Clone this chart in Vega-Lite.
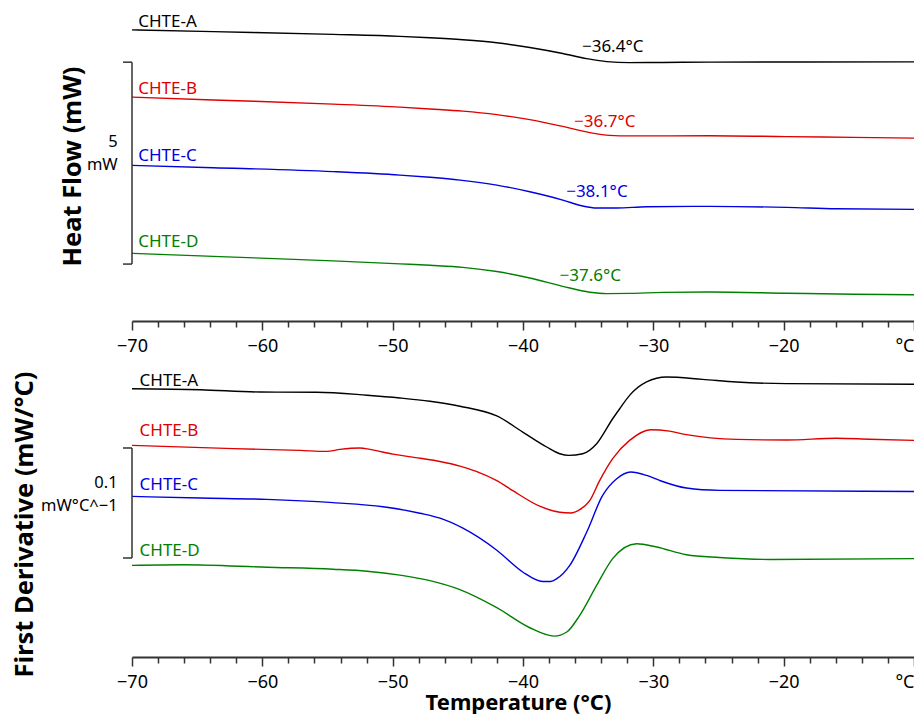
{
  "$schema": "https://vega.github.io/schema/vega-lite/v6.json",
  "padding": {"left": 12, "top": 0, "right": 0, "bottom": 0},
  "spacing": 4,
  "config": {
    "font": "Noto Sans",
    "view": {"stroke": null},
    "axis": {"labelFont": "Noto Sans", "titleFont": "Noto Sans"}
  },
  "datasets": {
    "heat": [
      {"sample": "CHTE-A", "temp": -70, "value": 7.21},
      {"sample": "CHTE-A", "temp": -63.77, "value": 7.166},
      {"sample": "CHTE-A", "temp": -54.57, "value": 7.099},
      {"sample": "CHTE-A", "temp": -49.44, "value": 7.05},
      {"sample": "CHTE-A", "temp": -47.14, "value": 7.015},
      {"sample": "CHTE-A", "temp": -44.61, "value": 6.965},
      {"sample": "CHTE-A", "temp": -42.01, "value": 6.891},
      {"sample": "CHTE-A", "temp": -39.48, "value": 6.775},
      {"sample": "CHTE-A", "temp": -36.95, "value": 6.626},
      {"sample": "CHTE-A", "temp": -35.11, "value": 6.498},
      {"sample": "CHTE-A", "temp": -33.58, "value": 6.423},
      {"sample": "CHTE-A", "temp": -31.82, "value": 6.399},
      {"sample": "CHTE-A", "temp": -29.29, "value": 6.403},
      {"sample": "CHTE-A", "temp": -25.69, "value": 6.411},
      {"sample": "CHTE-A", "temp": -10, "value": 6.418},
      {"sample": "CHTE-B", "temp": -70, "value": 5.545},
      {"sample": "CHTE-B", "temp": -63.77, "value": 5.475},
      {"sample": "CHTE-B", "temp": -54.57, "value": 5.371},
      {"sample": "CHTE-B", "temp": -49.44, "value": 5.297},
      {"sample": "CHTE-B", "temp": -47.14, "value": 5.252},
      {"sample": "CHTE-B", "temp": -44.61, "value": 5.198},
      {"sample": "CHTE-B", "temp": -42.01, "value": 5.111},
      {"sample": "CHTE-B", "temp": -39.48, "value": 4.988},
      {"sample": "CHTE-B", "temp": -36.95, "value": 4.819},
      {"sample": "CHTE-B", "temp": -34.88, "value": 4.666},
      {"sample": "CHTE-B", "temp": -33.35, "value": 4.597},
      {"sample": "CHTE-B", "temp": -31.82, "value": 4.584},
      {"sample": "CHTE-B", "temp": -25.69, "value": 4.587},
      {"sample": "CHTE-B", "temp": -19.79, "value": 4.567},
      {"sample": "CHTE-B", "temp": -14.66, "value": 4.547},
      {"sample": "CHTE-B", "temp": -10, "value": 4.53},
      {"sample": "CHTE-C", "temp": -70, "value": 3.854},
      {"sample": "CHTE-C", "temp": -63.77, "value": 3.797},
      {"sample": "CHTE-C", "temp": -54.57, "value": 3.7},
      {"sample": "CHTE-C", "temp": -49.44, "value": 3.614},
      {"sample": "CHTE-C", "temp": -47.14, "value": 3.559},
      {"sample": "CHTE-C", "temp": -44.84, "value": 3.49},
      {"sample": "CHTE-C", "temp": -42.01, "value": 3.366},
      {"sample": "CHTE-C", "temp": -39.48, "value": 3.2},
      {"sample": "CHTE-C", "temp": -36.95, "value": 2.995},
      {"sample": "CHTE-C", "temp": -35.42, "value": 2.847},
      {"sample": "CHTE-C", "temp": -34.35, "value": 2.797},
      {"sample": "CHTE-C", "temp": -32.81, "value": 2.797},
      {"sample": "CHTE-C", "temp": -30.52, "value": 2.829},
      {"sample": "CHTE-C", "temp": -25.69, "value": 2.839},
      {"sample": "CHTE-C", "temp": -19.79, "value": 2.814},
      {"sample": "CHTE-C", "temp": -15.96, "value": 2.78},
      {"sample": "CHTE-C", "temp": -10, "value": 2.765},
      {"sample": "CHTE-D", "temp": -70, "value": 1.676},
      {"sample": "CHTE-D", "temp": -63.77, "value": 1.601},
      {"sample": "CHTE-D", "temp": -54.57, "value": 1.49},
      {"sample": "CHTE-D", "temp": -49.44, "value": 1.416},
      {"sample": "CHTE-D", "temp": -47.14, "value": 1.379},
      {"sample": "CHTE-D", "temp": -44.61, "value": 1.329},
      {"sample": "CHTE-D", "temp": -42.01, "value": 1.225},
      {"sample": "CHTE-D", "temp": -39.48, "value": 1.064},
      {"sample": "CHTE-D", "temp": -36.95, "value": 0.859},
      {"sample": "CHTE-D", "temp": -34.88, "value": 0.713},
      {"sample": "CHTE-D", "temp": -33.58, "value": 0.678},
      {"sample": "CHTE-D", "temp": -31.82, "value": 0.683},
      {"sample": "CHTE-D", "temp": -29.29, "value": 0.708},
      {"sample": "CHTE-D", "temp": -25.69, "value": 0.718},
      {"sample": "CHTE-D", "temp": -19.79, "value": 0.688},
      {"sample": "CHTE-D", "temp": -14.66, "value": 0.663},
      {"sample": "CHTE-D", "temp": -10, "value": 0.651}
    ],
    "deriv": [
      {"sample": "CHTE-A", "temp": -70, "value": 0.2439},
      {"sample": "CHTE-A", "temp": -64.77, "value": 0.243},
      {"sample": "CHTE-A", "temp": -60.17, "value": 0.2409},
      {"sample": "CHTE-A", "temp": -55.82, "value": 0.2407},
      {"sample": "CHTE-A", "temp": -51.97, "value": 0.238},
      {"sample": "CHTE-A", "temp": -49.44, "value": 0.2355},
      {"sample": "CHTE-A", "temp": -47.14, "value": 0.2325},
      {"sample": "CHTE-A", "temp": -44.84, "value": 0.228},
      {"sample": "CHTE-A", "temp": -42.01, "value": 0.2191},
      {"sample": "CHTE-A", "temp": -40.02, "value": 0.2045},
      {"sample": "CHTE-A", "temp": -38.18, "value": 0.1909},
      {"sample": "CHTE-A", "temp": -37.18, "value": 0.1848},
      {"sample": "CHTE-A", "temp": -36.49, "value": 0.1833},
      {"sample": "CHTE-A", "temp": -35.42, "value": 0.1848},
      {"sample": "CHTE-A", "temp": -34.35, "value": 0.1939},
      {"sample": "CHTE-A", "temp": -33.12, "value": 0.2166},
      {"sample": "CHTE-A", "temp": -32.58, "value": 0.2257},
      {"sample": "CHTE-A", "temp": -31.82, "value": 0.2378},
      {"sample": "CHTE-A", "temp": -30.52, "value": 0.25},
      {"sample": "CHTE-A", "temp": -28.99, "value": 0.2545},
      {"sample": "CHTE-A", "temp": -26.23, "value": 0.2524},
      {"sample": "CHTE-A", "temp": -23.62, "value": 0.25},
      {"sample": "CHTE-A", "temp": -19.79, "value": 0.2485},
      {"sample": "CHTE-A", "temp": -10, "value": 0.248},
      {"sample": "CHTE-B", "temp": -70, "value": 0.1924},
      {"sample": "CHTE-B", "temp": -62.2, "value": 0.1894},
      {"sample": "CHTE-B", "temp": -57.1, "value": 0.1878},
      {"sample": "CHTE-B", "temp": -55.06, "value": 0.1869},
      {"sample": "CHTE-B", "temp": -54.04, "value": 0.1887},
      {"sample": "CHTE-B", "temp": -52.51, "value": 0.19},
      {"sample": "CHTE-B", "temp": -51.74, "value": 0.1887},
      {"sample": "CHTE-B", "temp": -49.98, "value": 0.1844},
      {"sample": "CHTE-B", "temp": -47.91, "value": 0.1807},
      {"sample": "CHTE-B", "temp": -46.37, "value": 0.1777},
      {"sample": "CHTE-B", "temp": -44.84, "value": 0.1735},
      {"sample": "CHTE-B", "temp": -43.54, "value": 0.1685},
      {"sample": "CHTE-B", "temp": -42.01, "value": 0.1603},
      {"sample": "CHTE-B", "temp": -40.78, "value": 0.1512},
      {"sample": "CHTE-B", "temp": -38.72, "value": 0.1371},
      {"sample": "CHTE-B", "temp": -37.18, "value": 0.1316},
      {"sample": "CHTE-B", "temp": -36.34, "value": 0.1309},
      {"sample": "CHTE-B", "temp": -35.65, "value": 0.1339},
      {"sample": "CHTE-B", "temp": -34.88, "value": 0.1421},
      {"sample": "CHTE-B", "temp": -34.12, "value": 0.1603},
      {"sample": "CHTE-B", "temp": -33.12, "value": 0.1803},
      {"sample": "CHTE-B", "temp": -31.82, "value": 0.1969},
      {"sample": "CHTE-B", "temp": -30.21, "value": 0.2066},
      {"sample": "CHTE-B", "temp": -28.76, "value": 0.2053},
      {"sample": "CHTE-B", "temp": -27.46, "value": 0.2021},
      {"sample": "CHTE-B", "temp": -23.62, "value": 0.1978},
      {"sample": "CHTE-B", "temp": -19.79, "value": 0.1973},
      {"sample": "CHTE-B", "temp": -15.96, "value": 0.1989},
      {"sample": "CHTE-B", "temp": -13.43, "value": 0.198},
      {"sample": "CHTE-B", "temp": -10, "value": 0.1969},
      {"sample": "CHTE-C", "temp": -70, "value": 0.146},
      {"sample": "CHTE-C", "temp": -64.77, "value": 0.1445},
      {"sample": "CHTE-C", "temp": -59.66, "value": 0.1433},
      {"sample": "CHTE-C", "temp": -54.57, "value": 0.1403},
      {"sample": "CHTE-C", "temp": -50.74, "value": 0.1366},
      {"sample": "CHTE-C", "temp": -47.91, "value": 0.1307},
      {"sample": "CHTE-C", "temp": -46.37, "value": 0.1262},
      {"sample": "CHTE-C", "temp": -44.61, "value": 0.1171},
      {"sample": "CHTE-C", "temp": -42.01, "value": 0.0971},
      {"sample": "CHTE-C", "temp": -40.02, "value": 0.0773},
      {"sample": "CHTE-C", "temp": -38.49, "value": 0.0687},
      {"sample": "CHTE-C", "temp": -37.88, "value": 0.0687},
      {"sample": "CHTE-C", "temp": -37.41, "value": 0.0712},
      {"sample": "CHTE-C", "temp": -36.41, "value": 0.0833},
      {"sample": "CHTE-C", "temp": -35.11, "value": 0.1136},
      {"sample": "CHTE-C", "temp": -33.89, "value": 0.1469},
      {"sample": "CHTE-C", "temp": -32.81, "value": 0.1621},
      {"sample": "CHTE-C", "temp": -31.74, "value": 0.1682},
      {"sample": "CHTE-C", "temp": -30.52, "value": 0.1651},
      {"sample": "CHTE-C", "temp": -29.52, "value": 0.1605},
      {"sample": "CHTE-C", "temp": -27.46, "value": 0.1536},
      {"sample": "CHTE-C", "temp": -24.93, "value": 0.1515},
      {"sample": "CHTE-C", "temp": -10, "value": 0.1505},
      {"sample": "CHTE-D", "temp": -70, "value": 0.0833},
      {"sample": "CHTE-D", "temp": -66.07, "value": 0.0839},
      {"sample": "CHTE-D", "temp": -59.63, "value": 0.0816},
      {"sample": "CHTE-D", "temp": -54.57, "value": 0.0798},
      {"sample": "CHTE-D", "temp": -51.97, "value": 0.078},
      {"sample": "CHTE-D", "temp": -49.44, "value": 0.0744},
      {"sample": "CHTE-D", "temp": -47.14, "value": 0.0694},
      {"sample": "CHTE-D", "temp": -44.84, "value": 0.0612},
      {"sample": "CHTE-D", "temp": -42.01, "value": 0.0448},
      {"sample": "CHTE-D", "temp": -39.48, "value": 0.0266},
      {"sample": "CHTE-D", "temp": -37.6, "value": 0.019},
      {"sample": "CHTE-D", "temp": -36.64, "value": 0.0227},
      {"sample": "CHTE-D", "temp": -35.65, "value": 0.0378},
      {"sample": "CHTE-D", "temp": -34.35, "value": 0.0651},
      {"sample": "CHTE-D", "temp": -33.12, "value": 0.0894},
      {"sample": "CHTE-D", "temp": -31.28, "value": 0.103},
      {"sample": "CHTE-D", "temp": -29.75, "value": 0.1},
      {"sample": "CHTE-D", "temp": -27.46, "value": 0.093},
      {"sample": "CHTE-D", "temp": -24.93, "value": 0.0905},
      {"sample": "CHTE-D", "temp": -21.09, "value": 0.0887},
      {"sample": "CHTE-D", "temp": -10, "value": 0.0894}
    ],
    "heatLabels": [
      {"sample": "CHTE-A", "temp": -69.52, "value": 7.27, "label": "CHTE-A"},
      {"sample": "CHTE-B", "temp": -69.52, "value": 5.619, "label": "CHTE-B"},
      {"sample": "CHTE-C", "temp": -69.52, "value": 3.968, "label": "CHTE-C"},
      {"sample": "CHTE-D", "temp": -69.52, "value": 1.839, "label": "CHTE-D"}
    ],
    "heatTg": [
      {"sample": "CHTE-A", "temp": -33.12, "value": 6.666, "label": "−36.4°C"},
      {"sample": "CHTE-B", "temp": -33.73, "value": 4.795, "label": "−36.7°C"},
      {"sample": "CHTE-C", "temp": -34.33, "value": 3.077, "label": "−38.1°C"},
      {"sample": "CHTE-D", "temp": -34.84, "value": 0.998, "label": "−37.6°C"}
    ],
    "derivLabels": [
      {"sample": "CHTE-A", "temp": -69.42, "value": 0.2464, "label": "CHTE-A"},
      {"sample": "CHTE-B", "temp": -69.42, "value": 0.2009, "label": "CHTE-B"},
      {"sample": "CHTE-C", "temp": -69.42, "value": 0.1518, "label": "CHTE-C"},
      {"sample": "CHTE-D", "temp": -69.42, "value": 0.0918, "label": "CHTE-D"}
    ],
    "heatBar": [
      {"temp": -70, "temp2": -70, "value": 1.41, "value2": 6.41},
      {"temp": -70.69, "temp2": -70, "value": 1.41, "value2": 1.41},
      {"temp": -70.69, "temp2": -70, "value": 6.41, "value2": 6.41}
    ],
    "heatBarText": [
      {"temp": -71.1, "value": 4.314, "label": "5"},
      {"temp": -71.1, "value": 3.738, "label": "mW"}
    ],
    "derivBar": [
      {"temp": -70, "temp2": -70, "value": 0.09, "value2": 0.19},
      {"temp": -70.69, "temp2": -70, "value": 0.09, "value2": 0.09},
      {"temp": -70.69, "temp2": -70, "value": 0.19, "value2": 0.19}
    ],
    "derivBarText": [
      {"temp": -71.1, "value": 0.1536, "label": "0.1"},
      {"temp": -71.1, "value": 0.1324, "label": "mW°C^−1"}
    ]
  },
  "vconcat": [
    {
      "width": 782,
      "height": 321,
      "resolve": {"axis": {"x": "independent"}},
      "layer": [
        {
          "data": {"name": "heat"},
          "mark": {"type": "line", "strokeWidth": 1.4, "interpolate": "monotone"},
          "encoding": {
            "x": {
              "field": "temp", "type": "quantitative",
              "scale": {"domain": [-70, -10], "nice": false, "zero": false},
              "axis": {
                "orient": "bottom", "title": null,
                "values": [-70, -60, -50, -40, -30, -20, -10],
                "labelExpr": "datum.value == -10 ? '°C' : datum.label",
                "tickSize": 9,
                "labelAlign": {"condition": {"test": "datum.value == -10", "value": "right"}, "value": "center"},
                "labelFontSize": 18, "labelColor": "#000000", "labelPadding": 7,
                "labelOverlap": false, "labelBound": false, "labelFlush": false,
                "domainColor": "#333333", "domainWidth": 2, "tickColor": "#333333", "tickWidth": 1.5, "grid": false
              }
            },
            "y": {
              "field": "value", "type": "quantitative",
              "scale": {"domain": [0, 7.95], "nice": false, "zero": false},
              "axis": {
                "title": "Heat Flow (mW)", "domain": false, "ticks": false, "labels": false, "grid": false,
                "titleFontSize": 25.5, "titleFontWeight": "bold", "titleColor": "#000000",
                "titleBaseline": "alphabetic", "titlePadding": 51.7, "titleY": 166, "minExtent": 0
              }
            },
            "color": {
              "field": "sample", "type": "nominal", "legend": null,
              "scale": {"domain": ["CHTE-A", "CHTE-B", "CHTE-C", "CHTE-D"], "range": ["#000000", "#e00000", "#0000e0", "#008000"]}
            }
          }
        },
        {
          "data": {"name": "heatLabels"},
          "mark": {"type": "text", "align": "left", "baseline": "alphabetic", "fontSize": 17},
          "encoding": {
            "x": {
              "field": "temp", "type": "quantitative",
              "axis": {
                "orient": "bottom", "title": null, "labels": false, "domain": false, "grid": false,
                "values": [-68, -66, -64, -62, -58, -56, -54, -52, -48, -46, -44, -42, -38, -36, -34, -32, -28, -26, -24, -22, -18, -16, -14, -12],
                "tickSize": 6, "tickColor": "#333333", "tickWidth": 1.5
              }
            },
            "y": {"field": "value", "type": "quantitative"},
            "text": {"field": "label"},
            "color": {"field": "sample", "type": "nominal"}
          }
        },
        {
          "data": {"name": "heatTg"},
          "mark": {"type": "text", "align": "center", "baseline": "alphabetic", "fontSize": 17},
          "encoding": {
            "x": {"field": "temp", "type": "quantitative", "axis": null},
            "y": {"field": "value", "type": "quantitative"},
            "text": {"field": "label"},
            "color": {"field": "sample", "type": "nominal"}
          }
        },
        {
          "data": {"name": "heatBar"},
          "mark": {"type": "rule", "color": "#333333", "strokeWidth": 1.5},
          "encoding": {
            "x": {"field": "temp", "type": "quantitative", "axis": null},
            "x2": {"field": "temp2"},
            "y": {"field": "value", "type": "quantitative"},
            "y2": {"field": "value2"}
          }
        },
        {
          "data": {"name": "heatBarText"},
          "mark": {"type": "text", "align": "right", "baseline": "alphabetic", "fontSize": 16.5, "color": "#000000"},
          "encoding": {
            "x": {"field": "temp", "type": "quantitative", "axis": null},
            "y": {"field": "value", "type": "quantitative"},
            "text": {"field": "label"}
          }
        }
      ]
    },
    {
      "width": 782,
      "height": 298,
      "resolve": {"axis": {"x": "independent"}},
      "layer": [
        {
          "data": {"name": "deriv"},
          "mark": {"type": "line", "strokeWidth": 1.4, "interpolate": "monotone"},
          "encoding": {
            "x": {
              "field": "temp", "type": "quantitative",
              "scale": {"domain": [-70, -10], "nice": false, "zero": false},
              "axis": {
                "orient": "bottom",
                "title": "Temperature (°C)",
                "titleFontSize": 22, "titleFontWeight": "bold", "titleColor": "#000000", "titlePadding": 1.5, "titleX": 386,
                "values": [-70, -60, -50, -40, -30, -20, -10],
                "labelExpr": "datum.value == -10 ? '°C' : datum.label",
                "tickSize": 9,
                "labelAlign": {"condition": {"test": "datum.value == -10", "value": "right"}, "value": "center"},
                "labelFontSize": 18, "labelColor": "#000000", "labelPadding": 7,
                "labelOverlap": false, "labelBound": false, "labelFlush": false,
                "domainColor": "#333333", "domainWidth": 2, "tickColor": "#333333", "tickWidth": 1.5, "grid": false
              }
            },
            "y": {
              "field": "value", "type": "quantitative",
              "scale": {"domain": [0, 0.2709], "nice": false, "zero": false},
              "axis": {
                "title": "First Derivative (mW/°C)", "domain": false, "ticks": false, "labels": false, "grid": false,
                "titleFontSize": 25.5, "titleFontWeight": "bold", "titleColor": "#000000",
                "titleBaseline": "alphabetic", "titlePadding": 100, "titleY": 165, "minExtent": 0
              }
            },
            "color": {
              "field": "sample", "type": "nominal", "legend": null,
              "scale": {"domain": ["CHTE-A", "CHTE-B", "CHTE-C", "CHTE-D"], "range": ["#000000", "#e00000", "#0000e0", "#008000"]}
            }
          }
        },
        {
          "data": {"name": "derivLabels"},
          "mark": {"type": "text", "align": "left", "baseline": "alphabetic", "fontSize": 17},
          "encoding": {
            "x": {
              "field": "temp", "type": "quantitative",
              "axis": {
                "orient": "bottom", "title": null, "labels": false, "domain": false, "grid": false,
                "values": [-68, -66, -64, -62, -58, -56, -54, -52, -48, -46, -44, -42, -38, -36, -34, -32, -28, -26, -24, -22, -18, -16, -14, -12],
                "tickSize": 6, "tickColor": "#333333", "tickWidth": 1.5
              }
            },
            "y": {"field": "value", "type": "quantitative"},
            "text": {"field": "label"},
            "color": {"field": "sample", "type": "nominal"}
          }
        },
        {
          "data": {"name": "derivBar"},
          "mark": {"type": "rule", "color": "#333333", "strokeWidth": 1.5},
          "encoding": {
            "x": {"field": "temp", "type": "quantitative", "axis": null},
            "x2": {"field": "temp2"},
            "y": {"field": "value", "type": "quantitative"},
            "y2": {"field": "value2"}
          }
        },
        {
          "data": {"name": "derivBarText"},
          "mark": {"type": "text", "align": "right", "baseline": "alphabetic", "fontSize": 16.5, "color": "#000000"},
          "encoding": {
            "x": {"field": "temp", "type": "quantitative", "axis": null},
            "y": {"field": "value", "type": "quantitative"},
            "text": {"field": "label"}
          }
        }
      ]
    }
  ]
}
